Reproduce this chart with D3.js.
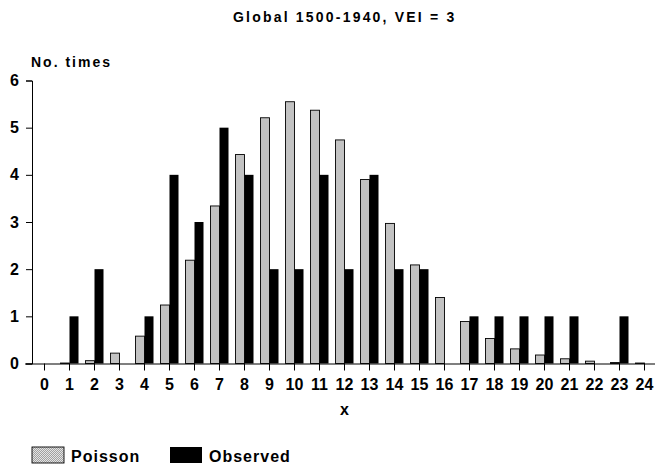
<!DOCTYPE html>
<html>
<head>
<meta charset="utf-8">
<script src="https://cdn.jsdelivr.net/npm/d3@7"></script>
<style>
  body { margin: 0; background: #fff; }
  text { font-family: "Liberation Sans", Arial, sans-serif; font-weight: bold; fill: #000; }
</style>
</head>
<body>
<div id="chart"></div>
<script>
// x values (number of eruptions per interval)
const categories = d3.range(0, 25).map(String);
// expected counts from Poisson fit
const poisson = [0, 0.01, 0.06, 0.22, 0.58, 1.24, 2.19, 3.34, 4.43, 5.21, 5.55, 5.37, 4.74, 3.9, 2.97, 2.09, 1.4, 0.89, 0.53, 0.31, 0.18, 0.1, 0.05, 0.02, 0.01];
// observed counts
const observed = [0, 1, 2, 0, 1, 4, 3, 5, 4, 2, 2, 4, 2, 4, 2, 2, 0, 1, 1, 1, 1, 1, 0, 1, 0];
const yTicks = [0, 1, 2, 3, 4, 5, 6];
const series = ["Poisson", "Observed"];

const width = 657, height = 466;
const margin = { left: 32, right: 0, top: 80.5, bottom: 102.5 };

const svg = d3.select("#chart").append("svg")
    .attr("width", width)
    .attr("height", height);

// stipple fill for the Poisson bars
const pat = svg.append("defs").append("pattern")
    .attr("id", "stipple")
    .attr("width", 2).attr("height", 2)
    .attr("patternUnits", "userSpaceOnUse");
pat.append("rect").attr("width", 2).attr("height", 2).attr("fill", "#e4e4e4");
pat.append("rect").attr("width", 1).attr("height", 1).attr("fill", "#a0a0a0");
pat.append("rect").attr("x", 1).attr("y", 1).attr("width", 1).attr("height", 1).attr("fill", "#a0a0a0");

const x = d3.scaleBand()
    .domain(categories)
    .range([margin.left, width - margin.right])
    .paddingInner(0.28)
    .paddingOuter(0.14);

const xSub = d3.scaleBand()
    .domain(series)
    .range([0, x.bandwidth()]);

const y = d3.scaleLinear()
    .domain([0, 6])
    .range([height - margin.bottom, margin.top]);

const fills = { Poisson: "url(#stipple)", Observed: "#000" };

const groups = svg.append("g")
    .selectAll("g")
    .data(categories)
    .join("g")
    .attr("transform", (d) => `translate(${x(d)},0)`);

groups.selectAll("rect")
    .data((d, i) => [
        { key: "Poisson", value: poisson[i] },
        { key: "Observed", value: observed[i] }
    ].filter((b) => b.value > 0))
    .join("rect")
    .attr("x", (b) => xSub(b.key))
    .attr("y", (b) => y(b.value))
    .attr("width", xSub.bandwidth())
    .attr("height", (b) => y(0) - y(b.value))
    .attr("fill", (b) => fills[b.key])
    .attr("stroke", "#000")
    .attr("stroke-width", (b) => b.key === "Poisson" ? 0.9 : 0);

// x axis
const xAxis = svg.append("g")
    .attr("transform", `translate(0,${y(0)})`)
    .call(d3.axisBottom(x).tickSize(7).tickSizeOuter(0).tickPadding(8));
xAxis.select(".domain").attr("d", `M25,0.5H${width - 2}`).attr("stroke-width", 1.2);
xAxis.selectAll("text").style("font-size", "16px");

// y axis
const yAxis = svg.append("g")
    .attr("transform", `translate(${margin.left},0)`)
    .call(d3.axisLeft(y).tickValues(yTicks).tickFormat(d3.format("d")).tickSize(6).tickPadding(7));
yAxis.selectAll("text").style("font-size", "16px");

// labels
svg.append("text")
    .attr("x", 233).attr("y", 22)
    .style("font-size", "14px")
    .style("letter-spacing", "2.2px")
    .text("Global 1500-1940, VEI = 3");

svg.append("text")
    .attr("x", 31).attr("y", 67)
    .style("font-size", "14px")
    .style("letter-spacing", "2px")
    .text("No. times");

svg.append("text")
    .attr("x", x("12") + x.bandwidth() / 2).attr("y", 415)
    .attr("text-anchor", "middle")
    .style("font-size", "16px")
    .text("x");

// legend
const legendX = [32, 170];
const legend = svg.append("g")
    .selectAll("g")
    .data(series)
    .join("g")
    .attr("transform", (d, i) => `translate(${legendX[i]},447)`);

legend.append("rect")
    .attr("width", 32).attr("height", 16)
    .attr("fill", (d) => fills[d])
    .attr("stroke", "#000")
    .attr("stroke-width", (d) => d === "Poisson" ? 0.9 : 0);

legend.append("text")
    .attr("x", 39).attr("y", 15)
    .style("font-size", "16px")
    .style("letter-spacing", "1px")
    .text((d) => d);
</script>
</body>
</html>
